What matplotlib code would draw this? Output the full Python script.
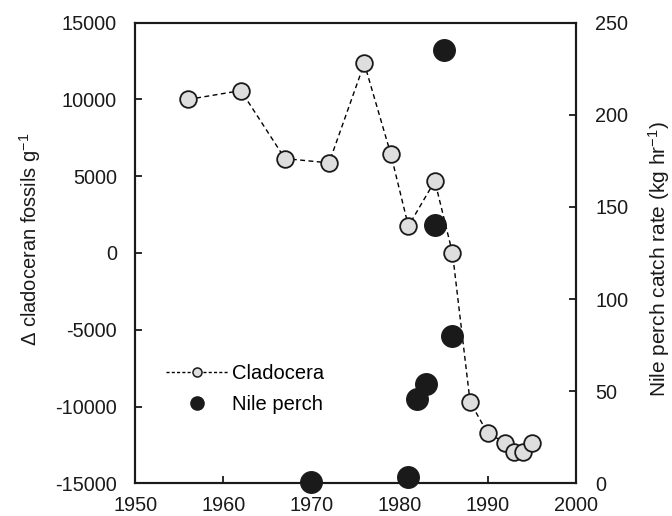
import matplotlib
matplotlib.use("Agg")
import matplotlib.pyplot as plt
from matplotlib.lines import Line2D

plt.rcParams['font.family'] = ['Liberation Sans', 'DejaVu Sans']
plt.rcParams['mathtext.fontset'] = 'custom'
plt.rcParams['mathtext.rm'] = 'Liberation Sans'
plt.rcParams['mathtext.it'] = 'Liberation Sans:italic'
plt.rcParams['mathtext.default'] = 'regular'
plt.rcParams['axes.unicode_minus'] = False

# cladocera fossils (left axis)
clad_year = [1956, 1962, 1967, 1972, 1976, 1979, 1981, 1984, 1986, 1988, 1990, 1992, 1993, 1994, 1995]
clad_val = [10000, 10580, 6150, 5870, 12350, 6450, 1750, 4690, 0, -9700, -11750, -12350, -12940, -12940, -12350]

# nile perch catch rate (right axis)
perch_year = [1970, 1981, 1982, 1983, 1984, 1985, 1986]
perch_val = [0.5, 3.5, 46, 54, 140, 235, 80]

fig = plt.figure(figsize=(6.72, 5.16), dpi=100)
ax = fig.add_axes([0.201, 0.0634, 0.656, 0.8926])
ax2 = ax.twinx()

ax.plot(clad_year, clad_val, linestyle=(0, (3.5, 2.5)), color='black', lw=1.0,
        marker='o', markersize=12, markerfacecolor='#dedede', markeredgecolor='#1a1a1a',
        markeredgewidth=1.3, zorder=3)
ax2.plot(perch_year, perch_val, linestyle='none', marker='o', markersize=15.5,
         markerfacecolor='#1a1a1a', markeredgecolor='#1a1a1a', clip_on=False)

ax.set_xlim(1950, 2000)
ax.set_ylim(-15000, 15000)
ax2.set_ylim(0, 250)
ax.set_xticks(range(1950, 2001, 10))
ax.set_yticks(range(-15000, 15001, 5000))
ax2.set_yticks(range(0, 251, 50))

for a in (ax, ax2):
    for s in a.spines.values():
        s.set_linewidth(1.5)
        s.set_color('#1a1a1a')
ax.tick_params(axis='both', direction='in', length=5, width=1.3, labelsize=14.3, colors='#1a1a1a')
ax.tick_params(axis='y', pad=13)
ax.tick_params(axis='x', pad=9.5)
ax2.tick_params(axis='y', direction='in', length=5, width=1.3, labelsize=14.3, pad=14, colors='#1a1a1a')

ax.set_ylabel(r'Δ cladoceran fossils g$^{-1}$', fontsize=14.5, color='#1a1a1a')
ax.yaxis.set_label_coords(-0.208, 0.53)
ax2.set_ylabel(r'Nile perch catch rate (kg hr$^{-1}$)', fontsize=15, color='#1a1a1a')
ax2.yaxis.set_label_coords(1.160, 0.487)

handles = [
    Line2D([], [], linestyle=(0, (2.2, 1.6)), color='black', lw=1.0, marker='o', markersize=6.5,
           markerfacecolor='#dedede', markeredgecolor='#1a1a1a', markeredgewidth=1.1),
    Line2D([], [], linestyle='none', marker='o', markersize=9.5,
           markerfacecolor='#1a1a1a', markeredgecolor='#1a1a1a'),
]
ax2.legend(handles, ['Cladocera', 'Nile perch'], frameon=False, fontsize=14.5,
           loc='upper left', bbox_to_anchor=(0.220, 0.329), bbox_transform=fig.transFigure,
           handlelength=3.1, handletextpad=0.2, labelspacing=0.6)

fig.savefig('out.png', dpi=100)
